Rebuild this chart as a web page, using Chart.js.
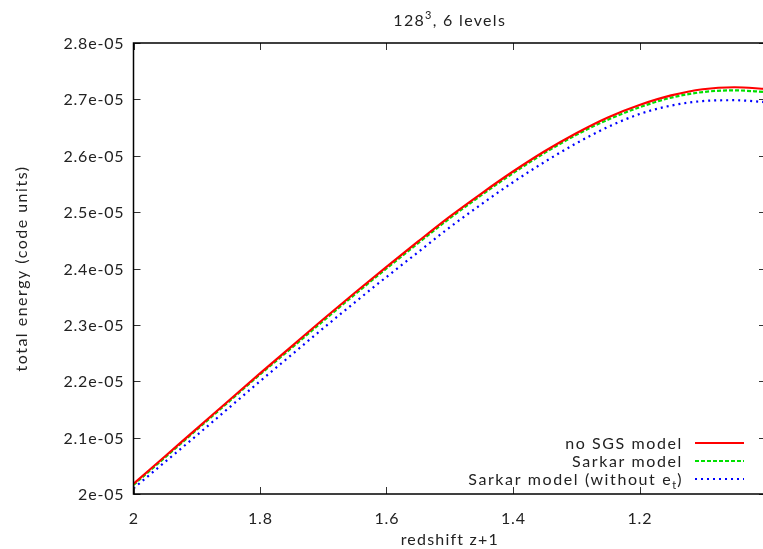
<!DOCTYPE html>
<html><head><meta charset="utf-8">
<script src="https://cdn.jsdelivr.net/npm/chart.js@4/dist/chart.umd.min.js"></script>
<style>
html,body{margin:0;padding:0;background:#fff;overflow:hidden;}
#wrap{width:763px;height:549px;overflow:hidden;position:relative;background:#fff;}
#c{position:absolute;left:0;top:0;}
</style></head><body>
<div id="wrap"><canvas id="c" width="780" height="549"></canvas></div>
<script>
// x values: redshift z+1
const redshift = [2.00,1.95,1.90,1.85,1.80,1.75,1.70,1.65,1.60,1.55,1.50,1.45,1.40,1.35,1.30,1.25,1.20,1.15,1.10,1.05,1.00];
// total energy (code units)
const noSGS = [2.018e-5,2.067e-5,2.116e-5,2.165e-5,2.214e-5,2.262e-5,2.310e-5,2.357e-5,2.403e-5,2.448e-5,2.492e-5,2.533e-5,2.572e-5,2.608e-5,2.640e-5,2.668e-5,2.690e-5,2.707e-5,2.718e-5,2.7215e-5,2.7185e-5];
const sarkar = [2.016e-5,2.065e-5,2.114e-5,2.163e-5,2.212e-5,2.259e-5,2.307e-5,2.354e-5,2.400e-5,2.445e-5,2.489e-5,2.530e-5,2.569e-5,2.605e-5,2.637e-5,2.664e-5,2.686e-5,2.703e-5,2.713e-5,2.716e-5,2.713e-5];
const sarkarNoEt = [2.010e-5,2.057e-5,2.104e-5,2.152e-5,2.200e-5,2.247e-5,2.294e-5,2.340e-5,2.385e-5,2.429e-5,2.473e-5,2.514e-5,2.553e-5,2.589e-5,2.622e-5,2.651e-5,2.674e-5,2.689e-5,2.697e-5,2.6985e-5,2.695e-5];
const xTicks = [2.0,1.8,1.6,1.4,1.2];
const yTicks = [2.0e-5,2.1e-5,2.2e-5,2.3e-5,2.4e-5,2.5e-5,2.6e-5,2.7e-5,2.8e-5];
const seriesLabels = ["no SGS model","Sarkar model","Sarkar model (without e_t)"];

const FONT = "Lato";
const TXT = '#222';
function fmtExp(v){
  let s = v.toExponential();
  let [m,e] = s.split("e");
  m = String(parseFloat(parseFloat(m).toFixed(3)));
  let d = e.replace(/^[-+]/,'');
  if (d.length < 2) d = '0' + d;
  return m + 'e' + (e[0] === '-' ? '-' : '+') + d;
}
function pts(arr){ return redshift.map((x,i)=>({x:x,y:arr[i]})); }
function setFont(ctx, size, spacing){ ctx.font = size + 'px ' + FONT; ctx.letterSpacing = spacing + 'px'; }
function tw(ctx, s){ return ctx.measureText(s).width; }

const frame = {
  id:'frame',
  afterDatasetsDraw(chart){
    const {ctx, chartArea:a, scales} = chart;
    const xs = scales.x, ys = scales.y;
    ctx.save();
    ctx.strokeStyle = '#333'; ctx.lineWidth = 1;
    const L = 7;
    xTicks.forEach(v=>{
      const px = Math.round(xs.getPixelForValue(v))+0.5;
      ctx.beginPath(); ctx.moveTo(px,a.bottom); ctx.lineTo(px,a.bottom-L); ctx.stroke();
      ctx.beginPath(); ctx.moveTo(px,a.top); ctx.lineTo(px,a.top+L); ctx.stroke();
    });
    yTicks.forEach(v=>{
      const py = Math.round(ys.getPixelForValue(v))+0.5;
      ctx.beginPath(); ctx.moveTo(a.left,py); ctx.lineTo(a.left+L,py); ctx.stroke();
      ctx.beginPath(); ctx.moveTo(a.right,py); ctx.lineTo(a.right-L,py); ctx.stroke();
    });
    ctx.strokeStyle = '#000'; ctx.lineWidth = 1.5;
    ctx.strokeRect(a.left, a.top, a.right-a.left, a.bottom-a.top);
    ctx.restore();
  },
  afterDraw(chart){
    const {ctx, chartArea:a, scales} = chart;
    const xs = scales.x, ys = scales.y;
    ctx.save();
    ctx.fillStyle = TXT;
    ctx.textBaseline = 'alphabetic';
    // tick labels
    setFont(ctx, 16, 0.8);
    ctx.textAlign = 'left';
    yTicks.forEach(v=>{
      const s = fmtExp(v); const w = tw(ctx, s) - 0.8;
      ctx.fillText(s, a.left - 10 - w, ys.getPixelForValue(v) + 6);
    });
    xTicks.forEach(v=>{
      const s = String(parseFloat(v.toFixed(2))); const w = tw(ctx, s) - 0.8;
      ctx.fillText(s, xs.getPixelForValue(v) - w/2, a.bottom + 30);
    });
    // title with superscript
    const sp = 1.3;
    setFont(ctx, 16, sp); const w1 = tw(ctx,'128'), w3 = tw(ctx,', 6 levels');
    setFont(ctx, 11, sp); const w2 = tw(ctx,'3');
    const cx = (a.left + a.right)/2;
    let x0 = cx - (w1+w2+w3)/2, by = 26;
    setFont(ctx, 16, sp); ctx.fillText('128', x0, by);
    setFont(ctx, 11, sp); ctx.fillText('3', x0+w1, by-7);
    setFont(ctx, 16, sp); ctx.fillText(', 6 levels', x0+w1+w2, by);
    // axis titles
    setFont(ctx, 16, 1.2);
    const wx = tw(ctx,'redshift z+1');
    ctx.fillText('redshift z+1', cx - wx/2, 545);
    ctx.save();
    ctx.translate(27, (a.top+a.bottom)/2);
    ctx.rotate(-Math.PI/2);
    setFont(ctx, 16, 1.5);
    const wy = tw(ctx,'total energy (code units)');
    ctx.fillText('total energy (code units)', -wy/2, 0);
    ctx.restore();
    // legend
    const rowsY = [443, 461, 479];
    const textRight = 683, sx0 = 695, sx1 = 744;
    chart.data.datasets.forEach((ds,i)=>{
      const y = rowsY[i];
      const lab = seriesLabels[i];
      let parts = lab.split('_t');
      setFont(ctx, 16, 1.6);
      const wa = tw(ctx, parts[0]);
      let wt = 0, wb = 0;
      if (parts.length > 1){
        setFont(ctx, 11, 1); wt = tw(ctx,'t');
        setFont(ctx, 16, 1.6); wb = tw(ctx, parts[1]);
      }
      let xx = textRight - wa - wt - wb;
      setFont(ctx, 16, 1.6); ctx.fillText(parts[0], xx, y+6);
      if (parts.length > 1){
        setFont(ctx, 11, 1); ctx.fillText('t', xx+wa, y+10);
        setFont(ctx, 16, 1.6); ctx.fillText(parts[1], xx+wa+wt, y+6);
      }
      ctx.save();
      ctx.strokeStyle = ds.borderColor; ctx.lineWidth = ds.borderWidth;
      ctx.setLineDash(ds.borderDash || []);
      ctx.beginPath(); ctx.moveTo(sx0, y); ctx.lineTo(sx1, y); ctx.stroke();
      ctx.restore();
    });
    ctx.restore();
  }
};

new Chart(document.getElementById('c'), {
  type:'line',
  data:{ datasets:[
    {label:seriesLabels[0], data:pts(noSGS), borderColor:'#ff0000', borderWidth:2.2, pointRadius:0, fill:false, cubicInterpolationMode:'monotone'},
    {label:seriesLabels[1], data:pts(sarkar), borderColor:'#00e000', borderWidth:2.2, borderDash:[4,2], pointRadius:0, fill:false, cubicInterpolationMode:'monotone'},
    {label:seriesLabels[2], data:pts(sarkarNoEt), borderColor:'#0000ff', borderWidth:2.2, borderDash:[2,4], pointRadius:0, fill:false, cubicInterpolationMode:'monotone'}
  ]},
  options:{
    responsive:false, animation:false, devicePixelRatio:1,
    layout:{padding:{left:0, top:43, right:14, bottom:0}},
    plugins:{legend:{display:false}, tooltip:{enabled:false}, title:{display:false}},
    scales:{
      x:{type:'linear', reverse:true, min:1.0, max:2.0,
         afterFit(s){ s.height = 55; },
         afterBuildTicks(s){ s.ticks = xTicks.map(v=>({value:v})); },
         grid:{display:false, drawTicks:false}, border:{display:false},
         ticks:{display:false}},
      y:{type:'linear', min:2.0e-5, max:2.8e-5,
         afterFit(s){ s.width = 133.5; },
         afterBuildTicks(s){ s.ticks = yTicks.map(v=>({value:v})); },
         grid:{display:false, drawTicks:false}, border:{display:false},
         ticks:{display:false}}
    }
  },
  plugins:[frame]
});
</script>
</body></html>
